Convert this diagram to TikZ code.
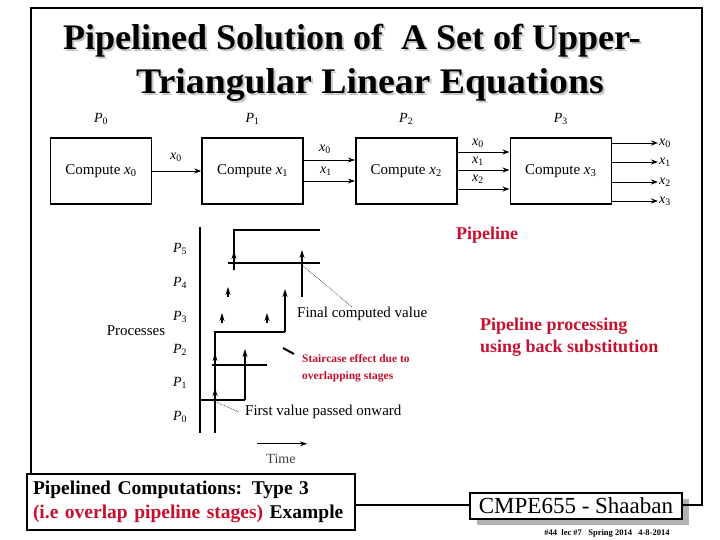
\documentclass[tikz,border=0pt]{standalone}
\usepackage{fontspec}
\setmainfont{Liberation Serif}
\usetikzlibrary{arrows.meta,positioning}
\definecolor{slidered}{RGB}{200,16,46}
\newcommand{\xv}[1]{\textit{x}\textsubscript{#1}}
\newcommand{\pv}[1]{\textit{P}\textsubscript{#1}}

\begin{document}
\begin{tikzpicture}[
  x=1pt, y=-1pt,
  comp/.style={rectangle, draw, line width=1.6pt, minimum width=101pt,
               minimum height=66pt, inner sep=0pt, font=\fontsize{15}{18}\selectfont},
  plab/.style={font=\fontsize{14}{16}\selectfont, inner sep=1pt},
  xlab/.style={font=\fontsize{14}{16}\selectfont, inner sep=1pt},
  arr/.style={-{Stealth[length=7pt,width=5pt]}, line width=0.9pt},
  tline/.style={line width=1.1pt},
  tip/.style={-{Stealth[length=8pt,width=5pt]}, line width=1.1pt},
  lead/.style={densely dotted, line width=0.6pt},
  note/.style={font=\fontsize{15}{17}\selectfont, inner sep=0pt, anchor=west},
  redbold/.style={text=slidered, font=\bfseries\fontsize{18}{22}\selectfont,
                  align=left, inner sep=0pt},
  ttl/.style={font=\bfseries\fontsize{36}{43}\selectfont, anchor=base, inner sep=0pt},
  frame/.style={line width=2.5pt}]
\useasboundingbox (0,0) rectangle (720,540);
\node[ttl, text=gray!45] (t1s) at (354,52) {Pipelined Solution of\ \ A Set of Upper-};
\node[ttl, text=gray!45, xscale=1.05] (t2s) at (372,96) {Triangular Linear Equations};
\node[ttl] (t1) at (352,50) {Pipelined Solution of\ \ A Set of Upper-};
\node[ttl, xscale=1.05] (t2) at (370,94) {Triangular Linear Equations};
\node[comp] (c0) at (101,171) {Compute \xv{0}};
\node[comp, right=49pt of c0] (c1) {Compute \xv{1}};
\node[comp, right=51pt of c1] (c2) {Compute \xv{2}};
\node[comp, right=52pt of c2] (c3) {Compute \xv{3}};
\node[plab, above=11pt of c0] (lp0) {\pv{0}};
\node[plab, above=11pt of c1] (lp1) {\pv{1}};
\node[plab, above=11pt of c2] (lp2) {\pv{2}};
\node[plab, above=11pt of c3] (lp3) {\pv{3}};
\draw[arr] (c0) -- (c1);
\node[xlab] (a0) at (176,157) {\xv{0}};
\draw[arr] ([yshift=11pt]c1.east) -- ([yshift=11pt]c2.west);
\draw[arr] ([yshift=-10pt]c1.east) -- ([yshift=-10pt]c2.west);
\node[xlab] (b0) at (325,149) {\xv{0}};
\node[xlab] (b1) at (326,171) {\xv{1}};
\draw[arr] ([yshift=19pt]c2.east) -- ([yshift=19pt]c3.west);
\draw[arr] ([yshift=1pt]c2.east) -- ([yshift=1pt]c3.west);
\draw[arr] ([yshift=-18pt]c2.east) -- ([yshift=-18pt]c3.west);
\node[xlab] (d0) at (478,143) {\xv{0}};
\node[xlab] (d1) at (478,161) {\xv{1}};
\node[xlab] (d2) at (478,179) {\xv{2}};
\node[xlab, anchor=west] (o0) at (658,143) {\xv{0}};
\node[xlab, anchor=west] (o1) at (658,162) {\xv{1}};
\node[xlab, anchor=west] (o2) at (658,182) {\xv{2}};
\node[xlab, anchor=west] (o3) at (658,201) {\xv{3}};
\draw[arr] (c3.east |- o0) -- (o0.west);
\draw[arr] (c3.east |- o1) -- (o1.west);
\draw[arr] (c3.east |- o2) -- (o2.west);
\draw[arr] (c3.east |- o3) -- (o3.west);
\node[redbold] (pipe) at (487,235) {Pipeline};
\node[plab] (q5) at (180,249) {\pv{5}};
\node[plab] (q4) at (180,283) {\pv{4}};
\node[plab] (q3) at (180,317) {\pv{3}};
\node[plab] (q2) at (180,350) {\pv{2}};
\node[plab] (q1) at (180,383) {\pv{1}};
\node[plab] (q0) at (180,417) {\pv{0}};
\node[font=\fontsize{15}{17}\selectfont] (procs) at (136,331) {Processes};
\draw[tline] (200,227) -- (200,433);
\draw[tline] (200,400) -- (245,400);
\draw[tip] (245,400) -- (245,349);
\draw[tline] (215,433) -- (215,332) -- (285,332);
\draw[tip] (285,332) -- (285,289);
\draw[tline] (212,365) -- (267,365);
\draw[tip] (215,398) -- (215,388);
\draw[tip] (215,364) -- (215,353);
\draw[tline] (234,270) -- (234,230) -- (320,230);
\draw[tline] (228,263) -- (320,263);
\draw[tip] (302,297) -- (302,250);
\draw[tip] (234,261) -- (234,251);
\draw[tip] (228,297) -- (228,287);
\draw[tip] (222,323) -- (222,313);
\draw[tip] (267,323) -- (267,313);
\node[note] (final) at (297,314) {Final computed value};
\coordinate (fcv) at (302,265);
\draw[lead] (fcv) -- ([xshift=55pt]final.north west);
\node[note] (first) at (245,412) {First value passed onward};
\coordinate (fvp) at (214,401);
\draw[lead] (fvp) -- ([xshift=-6pt]first.west);
\node[text=slidered, font=\bfseries\fontsize{11.5}{17}\selectfont, align=left,
      inner sep=0pt, anchor=north west] (stair) at (302,354) {Staircase effect due to\\
  overlapping stages};
\draw[line width=2pt] ([xshift=-19pt,yshift=6pt]stair.north west) -- ([xshift=-8pt,yshift=0pt]stair.north west);
\node[redbold, anchor=north west] (bsub) at (480,318) {Pipeline processing\\using back substitution};
\node[font=\fontsize{14}{16}\selectfont, text=black!75] (time) at (281,459) {Time};
\draw[arr] ([xshift=-24pt,yshift=7pt]time.north) -- ([xshift=26pt,yshift=7pt]time.north);
\node[draw, line width=2pt, fill=white, text width=316pt, minimum height=56pt,
      align=left, inner xsep=6pt, inner ysep=3pt,
      font=\bfseries\fontsize{19.5}{24}\selectfont] (foot) at (191,502)
  {Pipelined Computations: Type 3\\\textcolor{slidered}{(i.e overlap pipeline stages)}\ Example};
\node[fill=gray!60, minimum width=212pt, minimum height=26pt] (cmpes) at (583,512) {};
\node[draw, line width=1.6pt, fill=white, minimum width=212pt, minimum height=26pt,
      inner sep=0pt, font=\fontsize{23}{26}\selectfont] (cmpe) at (576,506) {CMPE655 - Shaaban};
\node[font=\bfseries\fontsize{8.5}{10}\selectfont, inner sep=0pt] (footer) at (607,533)
  {\#44\ \ lec \#7\ \ \ Spring 2014\ \ \ 4-8-2014};
\coordinate (tl) at (31,8);
\coordinate (tr) at (702,8);
\coordinate (br) at (702,505);
\draw[frame] (foot.north -| tl) -- (tl) -- (tr) -- (br) -- (cmpe.east |- br);
\draw[frame] (foot.east |- br) -- (cmpe.west |- br);
\end{tikzpicture}
\end{document}
